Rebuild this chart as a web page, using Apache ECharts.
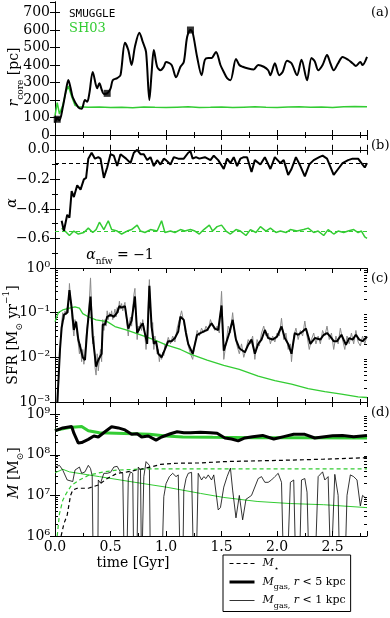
<!DOCTYPE html>
<html>
<head>
<meta charset="utf-8">
<script src="https://cdn.jsdelivr.net/npm/echarts@6/dist/echarts.min.js"></script>
<style>html,body{margin:0;padding:0;background:#fff}#main{width:390px;height:618px}</style>
</head>
<body>
<div id="main"></div>
<script>
var GREEN = '#33cc33';
var FONT = 'DejaVu Serif';

// (a) core radius [pc]
var rcoreSmuggle = [[0.0,70],[0.02,95],[0.04,85],[0.07,158],[0.10,260],[0.12,315],[0.14,270],[0.16,215],[0.21,158],[0.24,150],[0.27,200],[0.29,190],[0.31,240],[0.34,360],[0.38,267],[0.40,296],[0.42,260],[0.44,235],[0.47,238],[0.50,265],[0.52,313],[0.56,325],[0.59,342],[0.63,527],[0.66,486],[0.69,400],[0.72,505],[0.76,585],[0.79,533],[0.82,475],[0.85,200],[0.87,354],[0.89,486],[0.92,390],[0.95,370],[0.98,390],[1.00,417],[1.05,400],[1.09,330],[1.13,390],[1.16,417],[1.19,560],[1.22,600],[1.24,585],[1.28,446],[1.32,342],[1.35,430],[1.38,440],[1.41,440],[1.45,475],[1.49,400],[1.52,360],[1.55,325],[1.58,313],[1.63,435],[1.66,400],[1.69,390],[1.74,380],[1.79,375],[1.83,400],[1.88,390],[1.92,370],[1.94,342],[1.98,410],[2.02,342],[2.05,360],[2.09,424],[2.13,410],[2.18,342],[2.22,430],[2.27,313],[2.31,440],[2.34,420],[2.37,370],[2.41,400],[2.45,457],[2.48,410],[2.51,370],[2.55,410],[2.59,446],[2.64,430],[2.68,410],[2.71,395],[2.75,417],[2.77,400],[2.81,446]];
var rcoreSh03 = [[0.0,110],[0.02,185],[0.04,120],[0.07,170],[0.10,250],[0.12,280],[0.15,220],[0.18,170],[0.21,162],[0.3,158],[0.4,160],[0.5,157],[0.6,159],[0.7,156],[0.8,160],[0.9,158],[1.0,157],[1.1,159],[1.2,161],[1.3,157],[1.4,158],[1.5,160],[1.6,157],[1.7,159],[1.8,161],[1.9,158],[2.0,157],[2.1,160],[2.2,162],[2.3,158],[2.4,160],[2.5,157],[2.6,161],[2.7,163],[2.81,162]];
var rcoreMarks = [[0.02,90],[0.47,238],[1.22,600]];

// (b) inner slope alpha
var alphaSmuggle = [[0.06,-0.48],[0.08,-0.55],[0.11,-0.44],[0.13,-0.46],[0.15,-0.28],[0.17,-0.32],[0.20,-0.24],[0.23,-0.27],[0.26,-0.20],[0.28,-0.19],[0.30,-0.06],[0.33,-0.02],[0.36,-0.06],[0.39,-0.05],[0.41,-0.06],[0.44,-0.19],[0.47,-0.12],[0.50,-0.03],[0.53,-0.04],[0.56,-0.11],[0.59,-0.03],[0.64,-0.06],[0.68,-0.09],[0.71,-0.02],[0.74,0.0],[0.77,-0.03],[0.80,-0.03],[0.83,-0.07],[0.86,-0.05],[0.89,-0.11],[0.92,-0.07],[0.95,-0.10],[0.98,-0.06],[1.00,-0.07],[1.04,-0.10],[1.07,-0.05],[1.11,-0.06],[1.16,-0.06],[1.20,-0.02],[1.22,-0.01],[1.24,-0.06],[1.27,-0.05],[1.30,-0.06],[1.35,-0.05],[1.40,-0.07],[1.43,-0.04],[1.47,-0.07],[1.52,-0.13],[1.55,-0.06],[1.58,-0.09],[1.61,-0.05],[1.64,-0.11],[1.67,-0.06],[1.70,-0.05],[1.73,-0.05],[1.77,-0.15],[1.80,-0.07],[1.85,-0.10],[1.89,-0.05],[1.94,-0.13],[1.98,-0.05],[2.03,-0.09],[2.06,-0.07],[2.10,-0.17],[2.13,-0.13],[2.17,-0.05],[2.21,-0.11],[2.25,-0.18],[2.29,-0.10],[2.33,-0.07],[2.38,-0.05],[2.41,-0.04],[2.45,-0.06],[2.51,-0.17],[2.55,-0.13],[2.59,-0.09],[2.64,-0.07],[2.68,-0.06],[2.73,-0.06],[2.76,-0.09],[2.79,-0.12],[2.81,-0.09]];
var alphaSh03 = [[0.06,-0.53],[0.09,-0.55],[0.13,-0.58],[0.17,-0.55],[0.21,-0.57],[0.26,-0.56],[0.30,-0.53],[0.34,-0.56],[0.37,-0.54],[0.40,-0.49],[0.44,-0.54],[0.48,-0.48],[0.51,-0.54],[0.56,-0.55],[0.60,-0.57],[0.65,-0.55],[0.69,-0.54],[0.74,-0.51],[0.77,-0.55],[0.81,-0.56],[0.86,-0.54],[0.92,-0.55],[0.96,-0.48],[0.99,-0.56],[1.04,-0.55],[1.08,-0.56],[1.13,-0.54],[1.17,-0.55],[1.22,-0.54],[1.26,-0.55],[1.30,-0.57],[1.34,-0.54],[1.39,-0.51],[1.42,-0.55],[1.46,-0.52],[1.50,-0.51],[1.54,-0.55],[1.58,-0.57],[1.63,-0.54],[1.67,-0.55],[1.72,-0.58],[1.76,-0.54],[1.81,-0.56],[1.85,-0.52],[1.90,-0.55],[1.94,-0.53],[1.99,-0.56],[2.03,-0.55],[2.08,-0.56],[2.12,-0.54],[2.18,-0.55],[2.24,-0.54],[2.28,-0.53],[2.33,-0.56],[2.37,-0.55],[2.42,-0.58],[2.46,-0.54],[2.51,-0.57],[2.55,-0.55],[2.60,-0.56],[2.64,-0.55],[2.69,-0.54],[2.73,-0.56],[2.76,-0.55],[2.79,-0.59],[2.81,-0.60]];
var alphaFitSmuggle = -0.09;
var alphaFitSh03 = -0.55;

// (c) star formation rate [Msun/yr]
var sfrRaw = [[0.02,0.0005],[0.04,0.008],[0.05,0.03],[0.06,0.06],[0.07,0.10],[0.08,0.07],[0.09,0.11],[0.10,0.09],[0.11,0.13],[0.12,0.10],[0.13,0.45],[0.14,0.20],[0.15,0.09],[0.16,0.05],[0.17,0.03],[0.18,0.07],[0.19,0.05],[0.20,0.03],[0.21,0.02],[0.22,0.012],[0.23,0.02],[0.24,0.008],[0.25,0.015],[0.26,0.007],[0.27,0.012],[0.28,0.03],[0.29,0.05],[0.30,0.09],[0.31,0.2],[0.32,0.6],[0.33,0.12],[0.34,0.02],[0.35,0.03],[0.36,0.006],[0.37,0.004],[0.38,0.012],[0.39,0.005],[0.40,0.009],[0.41,0.015],[0.42,0.008],[0.43,0.07],[0.44,0.04],[0.45,0.07],[0.46,0.05],[0.47,0.11],[0.48,0.07],[0.49,0.10],[0.50,0.08],[0.51,0.11],[0.52,0.07],[0.53,0.09],[0.54,0.12],[0.55,0.08],[0.56,0.13],[0.57,0.10],[0.58,0.18],[0.59,0.12],[0.60,0.16],[0.61,0.11],[0.62,0.14],[0.63,0.17],[0.64,0.09],[0.65,0.05],[0.66,0.03],[0.67,0.06],[0.68,0.08],[0.69,0.05],[0.70,0.12],[0.71,0.25],[0.72,0.35],[0.73,0.08],[0.74,0.025],[0.75,0.05],[0.76,0.04],[0.77,0.06],[0.78,0.04],[0.79,0.07],[0.80,0.05],[0.81,0.03],[0.82,0.015],[0.83,0.03],[0.84,0.15],[0.85,0.55],[0.86,0.12],[0.87,0.04],[0.88,0.06],[0.89,0.015],[0.90,0.03],[0.91,0.02],[0.92,0.012],[0.93,0.015],[0.94,0.008],[0.95,0.012],[0.96,0.009],[0.97,0.013],[0.98,0.011],[0.99,0.02],[1.00,0.018],[1.02,0.028],[1.04,0.02],[1.06,0.03],[1.08,0.022],[1.10,0.045],[1.12,0.07],[1.14,0.11],[1.16,0.06],[1.18,0.03],[1.20,0.018],[1.22,0.012],[1.24,0.009],[1.26,0.02],[1.28,0.04],[1.30,0.03],[1.32,0.045],[1.34,0.035],[1.36,0.05],[1.38,0.04],[1.40,0.07],[1.42,0.05],[1.44,0.04],[1.46,0.05],[1.48,0.035],[1.50,0.30],[1.51,0.07],[1.52,0.009],[1.54,0.02],[1.56,0.05],[1.58,0.035],[1.60,0.10],[1.62,0.03],[1.64,0.018],[1.66,0.012],[1.68,0.02],[1.70,0.01],[1.72,0.015],[1.74,0.025],[1.76,0.02],[1.78,0.03],[1.80,0.009],[1.82,0.025],[1.84,0.018],[1.86,0.035],[1.88,0.05],[1.90,0.03],[1.92,0.035],[1.94,0.02],[1.96,0.03],[1.98,0.022],[2.00,0.035],[2.02,0.03],[2.04,0.075],[2.06,0.025],[2.08,0.035],[2.10,0.015],[2.12,0.02],[2.13,0.008],[2.15,0.03],[2.17,0.045],[2.19,0.025],[2.21,0.04],[2.23,0.03],[2.25,0.065],[2.27,0.03],[2.29,0.015],[2.31,0.025],[2.33,0.035],[2.35,0.02],[2.37,0.03],[2.39,0.02],[2.41,0.04],[2.43,0.03],[2.45,0.05],[2.47,0.025],[2.49,0.035],[2.51,0.015],[2.53,0.03],[2.55,0.02],[2.57,0.045],[2.59,0.025],[2.61,0.015],[2.63,0.03],[2.65,0.02],[2.67,0.035],[2.69,0.02],[2.71,0.04],[2.73,0.022],[2.75,0.018],[2.77,0.03],[2.79,0.02],[2.81,0.03]];
var sfrSmuggle = [[0.015,0.0005],[0.045,0.015],[0.06,0.046],[0.08,0.089],[0.11,0.10],[0.13,0.32],[0.15,0.13],[0.17,0.041],[0.19,0.063],[0.21,0.025],[0.25,0.010],[0.27,0.0087],[0.29,0.041],[0.32,0.23],[0.34,0.029],[0.37,0.0062],[0.39,0.0087],[0.42,0.012],[0.43,0.054],[0.45,0.054],[0.47,0.081],[0.50,0.089],[0.53,0.081],[0.56,0.10],[0.58,0.14],[0.60,0.13],[0.63,0.14],[0.66,0.044],[0.69,0.066],[0.72,0.23],[0.74,0.035],[0.77,0.049],[0.79,0.058],[0.83,0.020],[0.85,0.40],[0.87,0.049],[0.89,0.020],[0.91,0.023],[0.93,0.012],[0.96,0.010],[0.99,0.015],[1.02,0.023],[1.05,0.023],[1.08,0.027],[1.11,0.038],[1.13,0.081],[1.16,0.069],[1.18,0.035],[1.20,0.020],[1.24,0.012],[1.28,0.032],[1.31,0.035],[1.34,0.038],[1.37,0.041],[1.41,0.058],[1.44,0.044],[1.47,0.041],[1.50,0.145],[1.52,0.014],[1.57,0.035],[1.60,0.069],[1.63,0.025],[1.66,0.016],[1.71,0.013],[1.74,0.019],[1.77,0.025],[1.80,0.012],[1.83,0.020],[1.86,0.025],[1.89,0.041],[1.92,0.027],[1.96,0.025],[2.00,0.029],[2.04,0.049],[2.07,0.027],[2.10,0.020],[2.13,0.012],[2.16,0.035],[2.19,0.032],[2.23,0.038],[2.26,0.044],[2.30,0.020],[2.34,0.027],[2.39,0.025],[2.42,0.032],[2.45,0.035],[2.48,0.029],[2.51,0.023],[2.54,0.023],[2.58,0.032],[2.62,0.019],[2.65,0.027],[2.68,0.025],[2.71,0.032],[2.74,0.025],[2.77,0.023],[2.81,0.029]];
var sfrSh03 = [[0,0.063],[0.03,0.10],[0.07,0.115],[0.13,0.126],[0.18,0.135],[0.22,0.126],[0.25,0.095],[0.30,0.081],[0.37,0.069],[0.47,0.063],[0.54,0.049],[0.64,0.041],[0.77,0.032],[0.89,0.025],[1.00,0.019],[1.13,0.015],[1.22,0.0118],[1.37,0.0087],[1.52,0.0066],[1.66,0.0054],[1.83,0.0038],[1.98,0.0030],[2.13,0.0025],[2.28,0.0020],[2.43,0.0017],[2.58,0.0015],[2.73,0.0013],[2.81,0.00126]];

// (d) masses [Msun]
var mGas5Smuggle = [[0,3.9e8],[0.07,4.6e8],[0.15,5.0e8],[0.17,3.4e8],[0.21,1.95e8],[0.24,2.0e8],[0.30,2.4e8],[0.35,2.9e8],[0.39,2.75e8],[0.45,3.7e8],[0.51,4.9e8],[0.57,4.6e8],[0.63,4.1e8],[0.69,3.2e8],[0.74,3.3e8],[0.78,2.75e8],[0.84,2.9e8],[0.91,2.3e8],[0.96,2.75e8],[1.04,3.3e8],[1.10,3.7e8],[1.16,3.5e8],[1.22,3.5e8],[1.31,3.6e8],[1.40,3.5e8],[1.46,3.4e8],[1.53,2.6e8],[1.59,2.45e8],[1.65,2.2e8],[1.71,2.6e8],[1.78,2.8e8],[1.87,3.0e8],[1.97,2.45e8],[2.06,2.8e8],[2.15,3.2e8],[2.25,3.2e8],[2.34,2.6e8],[2.41,2.75e8],[2.50,2.95e8],[2.59,3.0e8],[2.69,2.8e8],[2.81,3.0e8]];
var mGas5Sh03 = [[0,4.0e8],[0.13,4.7e8],[0.24,5.0e8],[0.30,3.9e8],[0.40,3.5e8],[0.55,3.4e8],[0.70,3.3e8],[0.85,3.2e8],[1.0,2.9e8],[1.15,2.75e8],[1.42,2.7e8],[1.8,2.65e8],[2.2,2.65e8],[2.81,2.6e8]];
var mGas1Smuggle = [[0.00,5.0e7],[0.04,5.5e7],[0.07,4.2e7],[0.11,2.4e7],[0.16,2.2e7],[0.18,4.2e7],[0.22,5.0e7],[0.24,3.5e7],[0.27,3.8e7],[0.30,5.5e7],[0.32,4.6e7],[0.335,3.0e7],[0.345,1e5],[0.385,1e5],[0.39,2.4e7],[0.41,2.0e7],[0.44,3.5e7],[0.47,3.5e7],[0.50,3.7e7],[0.53,5.0e7],[0.56,5.2e7],[0.59,3.7e7],[0.61,3.5e7],[0.625,1e5],[0.645,1e5],[0.66,2.6e7],[0.68,3.8e7],[0.70,3.5e7],[0.71,1e5],[0.735,1e5],[0.75,5.0e7],[0.77,4.2e7],[0.78,1e5],[0.79,1e5],[0.80,2.9e7],[0.82,6.8e7],[0.85,5.5e7],[0.86,1e5],[0.96,1e5],[0.98,9.3e6],[1.00,1.95e7],[1.03,2.9e7],[1.06,3.5e7],[1.09,2.9e7],[1.11,3.2e7],[1.13,1e5],[1.15,1e5],[1.16,1.35e7],[1.18,2.6e7],[1.20,3.5e7],[1.23,3.7e7],[1.25,1e5],[1.27,1e5],[1.29,3.5e7],[1.32,2.4e7],[1.34,2.9e7],[1.36,2.6e7],[1.38,3.2e7],[1.41,2.4e7],[1.43,3.2e7],[1.47,4.4e6],[1.49,5.0e6],[1.52,1.6e7],[1.55,2.9e7],[1.58,4.7e7],[1.60,1.35e7],[1.63,2.8e6],[1.66,1.0e7],[1.69,2.5e6],[1.72,8e6],[1.77,1.0e7],[1.83,2.6e7],[1.86,2.9e7],[1.89,2.1e7],[1.92,2.1e7],[1.95,2.4e7],[1.98,2.9e7],[2.01,3.5e7],[2.04,2.1e7],[2.06,1e5],[2.09,1e5],[2.12,2.1e7],[2.15,2.4e7],[2.17,1e5],[2.20,1e5],[2.22,2.4e7],[2.25,2.6e7],[2.27,1.2e7],[2.29,1e5],[2.34,1e5],[2.37,2.9e7],[2.41,3.8e7],[2.43,2.4e7],[2.46,2.9e7],[2.485,1e5],[2.50,1e5],[2.52,3.3e7],[2.55,1.0e7],[2.565,1e5],[2.61,1e5],[2.63,1.0e7],[2.66,3.2e7],[2.69,2.9e7],[2.72,2.4e7],[2.75,5.5e6],[2.77,1.0e7],[2.80,8.5e6]];
var mGas1Sh03 = [[0,3.6e7],[0.07,4.4e7],[0.13,3.8e7],[0.4,2.9e7],[0.72,2.1e7],[1.0,1.6e7],[1.31,1.12e7],[1.52,8.9e6],[1.82,7.1e6],[2.12,6.3e6],[2.42,5.9e6],[2.81,5.0e6]];
var mStarSmuggle = [[0.055,1e6],[0.08,2e6],[0.11,3.3e6],[0.14,1.0e7],[0.16,1.35e7],[0.20,1.5e7],[0.30,1.5e7],[0.39,1.8e7],[0.47,2.6e7],[0.56,3.5e7],[0.65,3.8e7],[0.77,4.4e7],[0.86,5.0e7],[0.95,5.8e7],[1.1,6.2e7],[1.31,6.3e7],[1.52,6.8e7],[1.82,7.1e7],[2.12,7.4e7],[2.42,7.8e7],[2.81,8.5e7]];
var mStarSh03 = [[0.02,1e6],[0.04,3.5e6],[0.07,7.6e6],[0.10,1.1e7],[0.15,1.8e7],[0.22,2.4e7],[0.31,3.2e7],[0.44,3.8e7],[0.56,4.2e7],[0.72,4.4e7],[0.86,4.5e7],[1.5,4.5e7],[2.2,4.5e7],[2.81,4.5e7]];

var timeMax = 2.81;
var logMinorC = [], logMinorD = [];
[-3, -2, -1].forEach(function (e) { for (var m = 2; m <= 9; m++) logMinorC.push(m * Math.pow(10, e)); });
[6, 7, 8, 9].forEach(function (e) { for (var m = 2; m <= 9; m++) logMinorD.push(m * Math.pow(10, e)); });

var chart = echarts.init(document.getElementById('main'));

var tops = [2, 135, 268, 402];
var heights = [133, 133, 134, 134];
var grids = tops.map(function (t, i) {
  return { left: 55, right: 23, top: t, height: heights[i], outerBoundsMode: 'none', containLabel: false };
});

var blackLine = { color: '#000', width: 1 };
var supMinus = function (s) { return s.replace('-', '\u2212'); };
var supDigits = { '0': '\u2070', '1': '\u00b9', '2': '\u00b2', '3': '\u00b3', '6': '\u2076', '7': '\u2077', '8': '\u2078', '9': '\u2079', '-': '\u207b' };
function powLabel(v) {
  var e = String(Math.round(Math.log10(v)));
  return '10' + e.split('').map(function (c) { return supDigits[c]; }).join('');
}

var xAxes = [];
for (var g = 0; g < 4; g++) {
  ['bottom', 'top'].forEach(function (pos) {
    xAxes.push({
      gridIndex: g, type: 'value', position: pos, min: 0, max: timeMax, interval: 0.5,
      axisLine: { lineStyle: blackLine },
      axisTick: { inside: true, length: 5, lineStyle: blackLine },
      minorTick: { show: true, splitNumber: 2, length: 3, lineStyle: blackLine },
      splitLine: { show: false },
      axisLabel: { show: g === 3 && pos === 'bottom', showMaxLabel: false, color: '#000', fontFamily: FONT, fontSize: 14, margin: 4,
        formatter: function (v) { return v.toFixed(1); } }
    });
  });
}

function yLeft(g, extra) {
  return Object.assign({
    gridIndex: g, position: 'left',
    axisLine: { show: true, lineStyle: blackLine },
    axisTick: { inside: true, length: 5, lineStyle: blackLine },
    splitLine: { show: false },
    axisLabel: { color: '#000', fontFamily: FONT, fontSize: 14, margin: 5, showMaxLabel: false }
  }, extra);
}
function yRight(g, extra) {
  return Object.assign({
    gridIndex: g, position: 'right',
    axisLine: { show: true, lineStyle: blackLine },
    axisTick: { inside: true, length: 5, lineStyle: blackLine },
    splitLine: { show: false },
    axisLabel: { show: false }
  }, extra);
}
function yMinor(g, pos, vals, extra) {
  return Object.assign({
    gridIndex: g, position: pos, type: 'log', logBase: 10,
    axisLine: { show: false },
    axisTick: { inside: true, length: 3, lineStyle: blackLine, customValues: vals },
    axisLabel: { show: false },
    splitLine: { show: false }
  }, extra);
}

var ranges = {
  a: { type: 'value', min: 0, max: 760, interval: 100 },
  b: { type: 'value', min: -0.8, max: 0.1, interval: 0.2, minorTick: { show: true, splitNumber: 2, length: 3, lineStyle: blackLine } },
  c: { type: 'log', logBase: 10, min: 1e-3, max: 1 },
  d: { type: 'log', logBase: 10, min: 1e6, max: 2e9 }
};

var yAxes = [
  yLeft(0, ranges.a),
  yRight(0, ranges.a),
  yLeft(1, Object.assign({}, ranges.b, {
    axisLabel: { color: '#000', fontFamily: FONT, fontSize: 14, margin: 5, showMaxLabel: false,
      formatter: function (v) { return Math.abs(v + 0.8) < 1e-6 || v > 0.05 ? '' : supMinus(v.toFixed(1)); } } })),
  yRight(1, ranges.b),
  yLeft(2, Object.assign({}, ranges.c, {
    axisLabel: { color: '#000', fontFamily: FONT, fontSize: 14, margin: 5, formatter: powLabel } })),
  yRight(2, ranges.c),
  yLeft(3, Object.assign({}, ranges.d, {
    axisLabel: { color: '#000', fontFamily: FONT, fontSize: 14, margin: 5, showMaxLabel: false, formatter: powLabel } })),
  yRight(3, ranges.d),
  yMinor(2, 'left', logMinorC, { min: 1e-3, max: 1 }),
  yMinor(2, 'right', logMinorC, { min: 1e-3, max: 1 }),
  yMinor(3, 'left', logMinorD, { min: 1e6, max: 2e9 }),
  yMinor(3, 'right', logMinorD, { min: 1e6, max: 2e9 })
];

function line(name, g, data, color, width, extra) {
  return Object.assign({
    name: name, type: 'line', xAxisIndex: 2 * g, yAxisIndex: 2 * g, data: data,
    symbol: 'none', showSymbol: false, clip: true, silent: true,
    lineStyle: { color: color, width: width }, itemStyle: { color: color }
  }, extra);
}
function hLine(value, color) {
  return { silent: true, symbol: 'none', label: { show: false },
    lineStyle: { color: color, width: 1.2, type: [4, 3] }, data: [{ yAxis: value }] };
}

var series = [
  line('SH03', 0, rcoreSh03, GREEN, 1.5),
  line('SMUGGLE', 0, rcoreSmuggle, '#000', 2, { smooth: 0.3 }),
  { name: 'cores', type: 'scatter', xAxisIndex: 0, yAxisIndex: 0, data: rcoreMarks, symbol: 'rect', symbolSize: 7,
    itemStyle: { color: '#000' }, silent: true, z: 5 },
  line('alphaSh03', 1, alphaSh03, GREEN, 1.5, { markLine: hLine(alphaFitSh03, GREEN) }),
  line('alphaSmuggle', 1, alphaSmuggle, '#000', 2, { markLine: hLine(alphaFitSmuggle, '#000') }),
  line('sfrRaw', 2, sfrRaw, '#8a8a8a', 1),
  line('sfrSh03', 2, sfrSh03, GREEN, 1.3),
  line('sfrSmuggle', 2, sfrSmuggle, '#000', 2),
  line('mGas5Sh03', 3, mGas5Sh03, GREEN, 3),
  line('Mgas5', 3, mGas5Smuggle, '#000', 3),
  line('mGas1Sh03', 3, mGas1Sh03, GREEN, 1),
  line('Mgas1', 3, mGas1Smuggle, '#000', 0.8),
  line('mStarSh03', 3, mStarSh03, GREEN, 1.2, { lineStyle: { color: GREEN, width: 1.2, type: [4, 3] } }),
  line('Mstar', 3, mStarSmuggle, '#000', 1.2, { lineStyle: { color: '#000', width: 1.2, type: [4, 3] } })
];

var legendNames = {
  Mstar: '{i|M}{sub|\u22c6}',
  Mgas5: '{i|M}{sub|gas,}{t| }{i|r}{t| < 5 kpc}',
  Mgas1: '{i|M}{sub|gas,}{t| }{i|r}{t| < 1 kpc}'
};
var legendRich = {
  i: { fontStyle: 'italic', fontFamily: FONT, fontSize: 11, color: '#000', verticalAlign: 'middle' },
  t: { fontFamily: FONT, fontSize: 11, color: '#000', verticalAlign: 'middle' },
  sub: { fontFamily: FONT, fontSize: 8, color: '#000', verticalAlign: 'bottom', lineHeight: 18 }
};

// rich styles for the rotated axis titles and the alpha_nfw note
var titleRich = {
  i: { fontStyle: 'italic', fontFamily: FONT, fontSize: 14, color: '#000', verticalAlign: 'middle' },
  t: { fontFamily: FONT, fontSize: 14, color: '#000', verticalAlign: 'middle' },
  sub: { fontFamily: FONT, fontSize: 9, color: '#000', verticalAlign: 'bottom', lineHeight: 22 },
  sup: { fontFamily: FONT, fontSize: 9, color: '#000', verticalAlign: 'top', lineHeight: 22 }
};
function yTitle(text, x, y) {
  return { type: 'text', x: x, y: y, rotation: Math.PI / 2,
    style: { text: text, rich: titleRich, align: 'center', verticalAlign: 'middle' } };
}
function panelTag(text, y) {
  return { type: 'text', x: 371, y: y, style: { text: text, font: '13px "DejaVu Serif"', fill: '#000', verticalAlign: 'middle' } };
}

chart.setOption({
  animation: false,
  backgroundColor: '#fff',
  grid: grids,
  xAxis: xAxes,
  yAxis: yAxes,
  series: series,
  legend: [
    {
      data: [
        { name: 'Mstar', lineStyle: { width: 1.2 } },
        { name: 'Mgas5', lineStyle: { width: 3 } },
        { name: 'Mgas1', lineStyle: { width: 0.8 } }
      ],
      selectedMode: false, orient: 'vertical',
      left: 223, top: 555, borderColor: '#000', borderWidth: 1, borderRadius: 0,
      padding: [3, 5, 2, 5], itemWidth: 25, itemHeight: 12, itemGap: 4,
      itemStyle: { opacity: 0 },
      textStyle: { fontFamily: FONT, fontSize: 11, color: '#000', rich: legendRich, padding: [0, 0, 0, 3] },
      formatter: function (n) { return legendNames[n]; }
    },
    {
      selectedMode: false, orient: 'vertical', left: 64, top: 7, itemWidth: 0, itemGap: 2, padding: 0,
      data: [
        { name: 'SMUGGLE', icon: 'none', textStyle: { fontFamily: 'DejaVu Sans Mono', fontSize: 11, color: '#000' } },
        { name: 'SH03', icon: 'none', textStyle: { fontFamily: FONT, fontSize: 13, color: GREEN } }
      ]
    }
  ],
  graphic: [
    yTitle('{i|r}{sub|core}{t| [pc]}', 14, 77),
    yTitle('{i|\u03b1}', 12, 203),
    yTitle('{t|SFR [M}{sub|\u2299}{t| yr}{sup|\u22121}{t|]}', 13, 335),
    yTitle('{i|M}{t| [M}{sub|\u2299}{t|]}', 14, 473),
    panelTag('(a)', 13), panelTag('(b)', 146), panelTag('(c)', 279), panelTag('(d)', 413),
    { type: 'text', x: 133, y: 563, style: { text: 'time [Gyr]', font: '14px "DejaVu Serif"', fill: '#000', align: 'center', verticalAlign: 'middle' } },
    { type: 'text', x: 120, y: 255, style: { text: '{i|\u03b1}{sub|nfw}{t| = \u22121}', rich: titleRich, align: 'center', verticalAlign: 'middle' } }
  ]
});
</script>
</body>
</html>
